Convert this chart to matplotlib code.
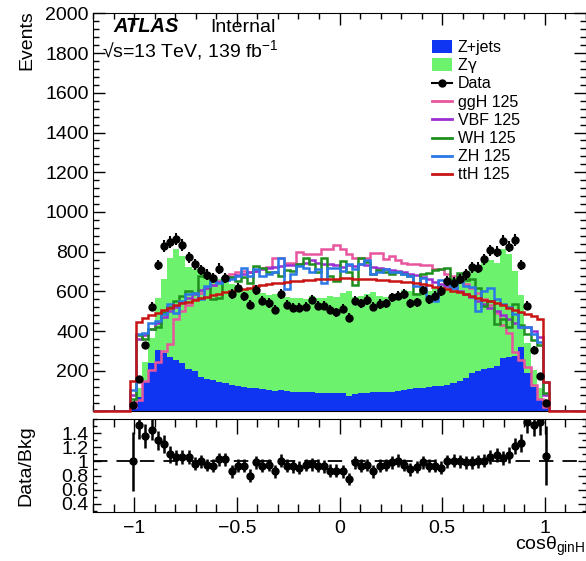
import numpy as np
import matplotlib
matplotlib.use('Agg')
import matplotlib.pyplot as plt
from matplotlib.patches import Rectangle
from matplotlib.lines import Line2D
from matplotlib.ticker import MultipleLocator

plt.rcParams['font.family'] = ['Liberation Sans', 'DejaVu Sans']
plt.rcParams['mathtext.fontset'] = 'custom'
plt.rcParams['mathtext.rm'] = 'Liberation Sans'
plt.rcParams['mathtext.it'] = 'Liberation Sans:italic'
plt.rcParams['mathtext.default'] = 'regular'

# ---------------- data (68 filled bins of width 0.03 from -1.02 to 1.02) ----------------
data = [30, 160, 329, 524, 733, 828, 848, 865, 833, 773,
        737, 708, 685, 667, 715, 667, 587, 620, 575, 534,
        607, 554, 542, 507, 587, 534, 517, 517, 524, 559,
        529, 529, 509, 495, 512, 469, 554, 540, 557, 524,
        537, 540, 570, 579, 587, 540, 545, 605, 560, 578,
        601, 653, 645, 663, 686, 721, 720, 763, 807, 800,
        856, 825, 860, 733, 529, 308, 177, 37]

zjets = [10, 70, 150, 240, 305, 290, 272, 255, 240, 210,
         200, 172, 160, 156, 146, 138, 128, 124, 120, 112,
         112, 108, 104, 100, 102, 98, 96, 95, 94, 92,
         90, 88, 90, 88, 90, 72, 85, 88, 90, 92,
         95, 96, 95, 100, 105, 108, 112, 115, 120, 122,
         125, 130, 140, 150, 165, 190, 200, 210, 215, 225,
         265, 270, 275, 320, 190, 120, 55, 12]

zgamma = [20, 45, 95, 125, 260, 375, 498, 561, 538, 515,
          512, 523, 525, 516, 516, 512, 512, 508, 492, 498,
          493, 484, 476, 485, 479, 474, 469, 473, 466, 483,
          475, 480, 488, 482, 500, 528, 485, 487, 495, 503,
          480, 476, 483, 480, 500, 492, 480, 493, 480, 493,
          515, 523, 510, 518, 528, 535, 522, 542, 543, 520,
          550, 520, 430, 262, 149, 83, 58, 22]

ggH = [20, 55, 150, 205, 246, 300, 338, 463, 500, 530,
       560, 590, 615, 635, 655, 670, 690, 700, 705, 700,
       705, 720, 722, 770, 770, 745, 745, 800, 790, 787,
       790, 812, 812, 835, 812, 787, 767, 767, 770, 795,
       795, 762, 779, 757, 745, 737, 737, 733, 733, 712,
       712, 690, 680, 660, 640, 620, 590, 560, 530, 490,
       430, 390, 295, 255, 221, 130, 60, 20]

VBF = [80, 360, 380, 410, 440, 470, 500, 520, 545, 565,
       585, 605, 620, 635, 650, 660, 672, 682, 690, 698,
       705, 712, 718, 722, 728, 732, 735, 738, 742, 760,
       745, 740, 738, 735, 725, 735, 730, 740, 735, 725,
       720, 715, 710, 705, 698, 690, 682, 672, 662, 650,
       640, 628, 615, 600, 585, 570, 552, 535, 518, 500,
       480, 460, 440, 420, 420, 400, 370, 80]

WH = [60, 379, 363, 413, 420, 496, 520, 554, 579, 604,
      590, 679, 675, 562, 565, 670, 675, 654, 674, 645,
      729, 717, 700, 700, 680, 710, 705, 737, 770, 737,
      700, 770, 680, 654, 754, 700, 634, 770, 750, 690,
      710, 700, 690, 700, 690, 680, 587, 690, 695, 710,
      715, 717, 662, 695, 660, 662, 620, 529, 554, 438,
      460, 421, 537, 430, 388, 354, 330, 90]

ZH = [105, 385, 390, 440, 450, 487, 537, 490, 550, 587,
      590, 560, 629, 654, 645, 660, 665, 679, 720, 679,
      712, 680, 687, 700, 767, 612, 690, 729, 720, 700,
      715, 645, 720, 720, 704, 737, 715, 740, 757, 687,
      700, 712, 700, 700, 690, 679, 629, 670, 579, 554,
      660, 654, 620, 650, 630, 625, 504, 600, 620, 560,
      537, 520, 487, 421, 420, 388, 346, 146]

ttH = [150, 446, 468, 482, 494, 505, 518, 530, 540, 548,
       556, 565, 573, 580, 588, 595, 602, 608, 614, 620,
       626, 632, 637, 641, 645, 648, 651, 654, 657, 659,
       661, 663, 664, 665, 666, 666, 665, 664, 663, 661,
       659, 657, 655, 652, 650, 646, 642, 637, 631, 625,
       618, 611, 603, 595, 586, 577, 568, 559, 550, 540,
       530, 519, 508, 497, 486, 475, 462, 146]

ratio = [1.00, 1.52, 1.36, 1.45, 1.30, 1.25, 1.10, 1.06, 1.07, 1.07,
         0.97, 1.00, 0.95, 0.94, 1.03, 1.03, 0.86, 0.94, 0.94, 0.80,
         0.99, 0.94, 0.95, 0.86, 1.01, 0.94, 0.93, 0.91, 0.95, 0.96,
         0.94, 0.93, 0.87, 0.87, 0.86, 0.75, 0.99, 0.94, 0.95, 0.86,
         0.94, 0.95, 0.99, 1.01, 0.95, 0.89, 0.92, 0.99, 0.94, 0.94,
         0.91, 1.00, 1.01, 1.00, 0.99, 0.99, 1.00, 1.01, 1.07, 1.09,
         1.05, 1.09, 1.22, 1.26, 1.56, 1.52, 1.56, 1.08]

ratio_err = [0.42, 0.20, 0.17, 0.15, 0.13, 0.13, 0.12, 0.11, 0.10, 0.10,
             0.09, 0.09, 0.09, 0.09, 0.09, 0.09, 0.09, 0.09, 0.09, 0.09,
             0.09, 0.09, 0.09, 0.09, 0.09, 0.09, 0.09, 0.09, 0.09, 0.09,
             0.09, 0.09, 0.09, 0.09, 0.09, 0.09, 0.09, 0.09, 0.09, 0.09,
             0.09, 0.09, 0.09, 0.09, 0.09, 0.09, 0.09, 0.09, 0.09, 0.09,
             0.09, 0.09, 0.09, 0.09, 0.09, 0.09, 0.09, 0.09, 0.10, 0.10,
             0.10, 0.11, 0.12, 0.13, 0.15, 0.16, 0.18, 0.42]

signals = [("ggH 125", ggH, '#e8559f'),
           ("VBF 125", VBF, '#9a2ed0'),
           ("WH 125", WH, '#1f8f1f'),
           ("ZH 125", ZH, '#2a78e6'),
           ("ttH 125", ttH, '#c81414')]

C_ZJ = '#0f35f2'
C_ZG = '#6cf26c'

# ---------------- figure ----------------
W, H = 586, 561
fig = plt.figure(figsize=(W / 100, H / 100), dpi=100)


def fx(p):
    return p / W


def fy(p):
    return 1 - p / H


L, R = 93, 586
ax = fig.add_axes([fx(L), fy(410.7), (R - L) / W, (410.7 - 13.3) / H])
rax = fig.add_axes([fx(L), fy(512), (R - L) / W, (512 - 418.7) / H])

edges = np.round(np.linspace(-1.2, 1.2, 81), 6)
NPAD = 6


def pad(v):
    return np.concatenate([np.zeros(NPAD), np.asarray(v, float), np.zeros(NPAD)])


centers = 0.5 * (edges[NPAD:NPAD + len(data)] + edges[NPAD + 1:NPAD + 1 + len(data)])

zj = pad(zjets)
tot = zj + pad(zgamma)
ax.stairs(tot, edges, baseline=zj, fill=True, color=C_ZG, lw=0, zorder=1)
ax.stairs(zj, edges, baseline=0, fill=True, color=C_ZJ, lw=0, zorder=2)

for i, (name, vals, col) in enumerate(signals):
    st = ax.stairs(pad(vals), edges, color=col, lw=1.8, zorder=3 + i)
    if name.startswith('ttH'):
        st.set_clip_on(False)

d = np.asarray(data, float)
ax.errorbar(centers, d, yerr=np.sqrt(d), fmt='o', color='k', ms=5,
            elinewidth=1.5, capsize=0, zorder=20)

ax.set_xlim(-1.2, 1.2)
ax.set_ylim(0, 2000)
ax.xaxis.set_major_locator(MultipleLocator(0.5))
ax.xaxis.set_minor_locator(MultipleLocator(0.1))
ax.yaxis.set_major_locator(MultipleLocator(200))
ax.yaxis.set_minor_locator(MultipleLocator(40))
ax.tick_params(which='both', direction='in', top=True, right=True,
               labelbottom=False, labelsize=14, width=1)
ax.tick_params(which='major', length=8.5, pad=3)
ax.tick_params(which='minor', length=4.3)
yt = np.arange(0, 2001, 200)
ax.set_yticks(yt, ['' if v == 0 else str(v) for v in yt])

# ratio panel
rax.axhline(1.0, color='k', lw=1.3, ls=(0, (8, 5)), zorder=1)
rax.errorbar(centers, ratio, yerr=ratio_err, fmt='o', color='k', ms=5,
             elinewidth=1.8, capsize=0, zorder=5)
rax.set_xlim(-1.2, 1.2)
rax.set_ylim(0.28, 1.61)
rax.set_xticks([-1, -0.5, 0, 0.5, 1], ['\u22121', '\u22120.5', '0', '0.5', '1'])
rax.xaxis.set_minor_locator(MultipleLocator(0.1))
rax.set_yticks([0.4, 0.6, 0.8, 1.0, 1.2, 1.4], ['0.4', '0.6', '0.8', '1', '1.2', '1.4'])
rax.yaxis.set_minor_locator(MultipleLocator(0.1))
rax.tick_params(which='both', direction='in', top=True, right=True, labelsize=14, width=1)
rax.tick_params(axis='x', which='major', length=11, pad=6)
rax.tick_params(axis='x', which='minor', length=6)
rax.tick_params(axis='y', which='major', length=6, pad=3)
rax.tick_params(axis='y', which='minor', length=3)

# axis titles
fig.text(fx(27), fy(10), 'Events', rotation=90, ha='center', va='top', fontsize=14)
fig.text(fx(26), fy(466), 'Data/Bkg', rotation=90, ha='center', va='center', fontsize=14)
fig.text(fx(585), fy(550), 'cos\u03b8$_{ginH}$', ha='right', va='baseline', fontsize=14)

# ATLAS labels
fig.text(fx(113), fy(32), 'ATLAS', fontsize=14.5, weight='bold', style='italic', va='baseline')
fig.text(fx(210), fy(32), 'Internal', fontsize=14, va='baseline')
fig.text(fx(102), fy(57), '\u221as=13 TeV, 139 fb$^{-1}$', fontsize=14, va='baseline')

# legend (manual)
lx0, lx1, tx = 432, 452, 458
rows = [46.5, 64.7, 82.9, 101.1, 119.3, 137.5, 155.7, 173.9]
fig.add_artist(Rectangle((fx(lx0), fy(rows[0] + 6)), (lx1 - lx0) / W, 12.5 / H,
                         transform=fig.transFigure, color=C_ZJ, lw=0))
fig.add_artist(Rectangle((fx(lx0), fy(rows[1] + 6)), (lx1 - lx0) / W, 12.5 / H,
                         transform=fig.transFigure, color=C_ZG, lw=0))
fig.add_artist(Line2D([fx(lx0), fx(lx1)], [fy(rows[2])] * 2, color='k', lw=1.5,
                      transform=fig.transFigure))
fig.add_artist(Line2D([fx((lx0 + lx1) / 2)], [fy(rows[2])], color='k', marker='o', ms=5,
                      transform=fig.transFigure))
labels = ['Z+jets', 'Z\u03b3', 'Data'] + [s[0] for s in signals]
for i, (name, vals, col) in enumerate(signals):
    fig.add_artist(Line2D([fx(lx0), fx(lx1)], [fy(rows[3 + i])] * 2, color=col, lw=2,
                          transform=fig.transFigure))
for lab, y in zip(labels, rows):
    fam = ['DejaVu Sans'] if lab == 'Z\u03b3' else None
    if fam:
        fig.text(fx(tx), fy(y + 5.5), 'Z', fontsize=11.5, va='baseline')
        fig.text(fx(tx + 9.5), fy(y + 5.5), '\u03b3', fontsize=11, va='baseline',
                 family=['DejaVu Sans'])
    else:
        fig.text(fx(tx), fy(y + 5.5), lab, fontsize=11.5, va='baseline')

fig.savefig('out.png', dpi=100)
